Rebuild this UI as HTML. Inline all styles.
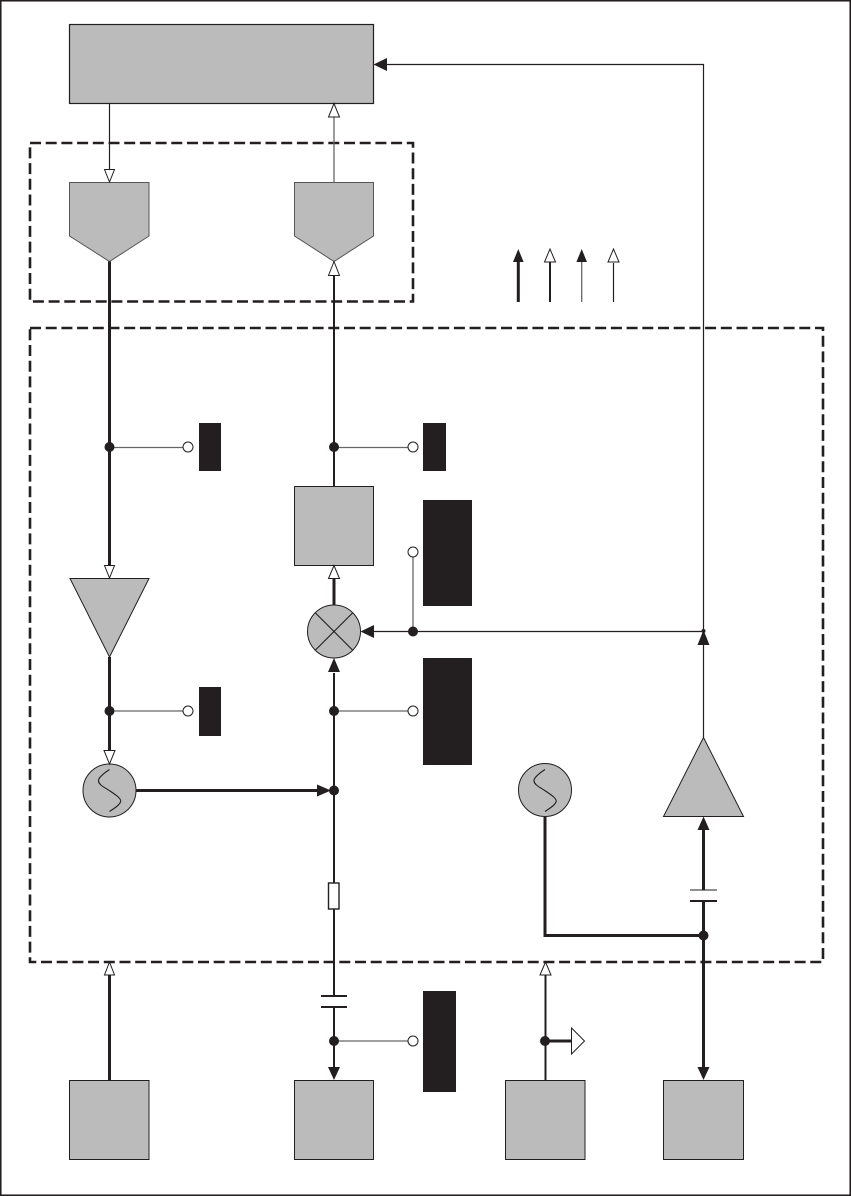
<!DOCTYPE html>
<html>
<head>
<meta charset="utf-8">
<title>Diagram</title>
<style>
html,body{margin:0;padding:0;background:#fff;width:851px;height:1196px;overflow:hidden}
svg{display:block}
</style>
</head>
<body>
<svg width="851" height="1196" viewBox="0 0 851 1196" xmlns="http://www.w3.org/2000/svg">
<rect width="851" height="1196" fill="#fff"/>
<rect x="0.75" y="0.75" width="849.5" height="1194.5" fill="none" stroke="#231f20" stroke-width="1.6"/>

<!-- dashed containers -->
<g fill="none" stroke="#231f20" stroke-width="2.6" stroke-dasharray="11 4.7">
<rect x="30" y="143" width="383" height="158.5"/>
<rect x="30" y="328" width="793" height="634"/>
</g>

<!-- grey shapes -->
<g fill="#bbbbbb" stroke="#231f20" stroke-width="1">
<rect x="69.5" y="24.5" width="304" height="79" stroke-width="1.2"/>
<polygon points="69.5,182.5 149,182.5 149,236 109.5,261.5 69.5,236" stroke="#555"/>
<polygon points="294.5,182.5 373.5,182.5 373.5,236 334,261.5 294.5,236" stroke="#555"/>
<rect x="294.5" y="486.5" width="79" height="79"/>
<polygon points="70,578.5 149,578.5 109.5,657"/>
<polygon points="663.5,816.5 743.5,816.5 703.5,737.5"/>
<rect x="69.5" y="1080.5" width="79.5" height="79"/>
<rect x="294.5" y="1080.5" width="79" height="79"/>
<rect x="505.5" y="1080.5" width="79.5" height="79"/>
<rect x="663.5" y="1080.5" width="80" height="79"/>
<circle cx="334" cy="631.5" r="26.5"/>
<circle cx="109.5" cy="790.5" r="26.5"/>
<circle cx="545" cy="790" r="26.5"/>
</g>

<!-- black blocks -->
<g fill="#231f20">
<rect x="199" y="423" width="22" height="48"/>
<rect x="423" y="423" width="23" height="48"/>
<rect x="423" y="500" width="49" height="106"/>
<rect x="423" y="658" width="49" height="107"/>
<rect x="199" y="687" width="22" height="49"/>
<rect x="423" y="991" width="33" height="101"/>
</g>

<!-- symbol details -->
<g fill="none" stroke="#231f20" stroke-width="1.1">
<line x1="315.5" y1="613" x2="352.5" y2="650"/>
<line x1="352.5" y1="613" x2="315.5" y2="650"/>
<path d="M109.5,769.5 C104,773 98,778 98.5,781 C99,785 104,787 110,791 C116,795 122,799 120.5,802 C119,806 113,809 109.5,811.5"/>
<path d="M545,769.5 C539.5,773 533.5,778 534,781 C534.5,785 539.5,787 545.5,791 C551.5,795 557.5,799 556,802 C554.5,806 548.5,809 545,811.5"/>
</g>

<!-- thin black lines -->
<g fill="none" stroke="#231f20" stroke-width="1.2">
<line x1="109.5" y1="103" x2="109.5" y2="170"/>
<polyline points="703.5,737.5 703.5,64.5 386,64.5"/>
<line x1="374" y1="631.5" x2="703.5" y2="631.5"/>
<line x1="613.5" y1="263" x2="613.5" y2="302"/>
</g>

<!-- grey lines -->
<g fill="none" stroke="#666" stroke-width="1.3">
<line x1="334" y1="182.5" x2="334" y2="116"/>
<line x1="109.5" y1="447.5" x2="183" y2="447.5"/>
<line x1="334" y1="447.5" x2="408" y2="447.5"/>
<line x1="413" y1="557" x2="413" y2="631"/>
<line x1="334" y1="711" x2="408" y2="711"/>
<line x1="109.5" y1="711" x2="183" y2="711"/>
<line x1="334" y1="1041" x2="408" y2="1041"/>
<line x1="581.7" y1="262" x2="581.7" y2="302"/>
</g>

<!-- medium / thick lines -->
<g fill="none" stroke="#231f20" stroke-width="2">
<line x1="334" y1="275" x2="334" y2="486"/>
<line x1="334" y1="673" x2="334" y2="883"/>
<line x1="334" y1="909" x2="334" y2="996"/>
<line x1="334" y1="1007" x2="334" y2="1068"/>
<line x1="545.5" y1="975" x2="545.5" y2="1080"/>
<line x1="550" y1="262" x2="550" y2="302"/>
<line x1="321" y1="996" x2="347" y2="996"/>
<line x1="321" y1="1007" x2="347" y2="1007"/>
<line x1="690" y1="901" x2="717" y2="901"/>
</g>
<line x1="690" y1="890" x2="717" y2="890" stroke="#231f20" stroke-width="1.1"/>
<g fill="none" stroke="#231f20" stroke-width="3">
<polyline points="545,817 545,935.5 703.5,935.5"/>
<line x1="109.5" y1="261.5" x2="109.5" y2="566"/>
<line x1="109.5" y1="657" x2="109.5" y2="751"/>
<line x1="334" y1="605" x2="334" y2="578"/>
<line x1="136" y1="790.5" x2="320" y2="790.5"/>
<line x1="703.5" y1="830" x2="703.5" y2="890"/>
<line x1="703.5" y1="901" x2="703.5" y2="1068"/>
<line x1="109.5" y1="975" x2="109.5" y2="1080"/>
<line x1="545" y1="1041" x2="572" y2="1041"/>
<line x1="518.3" y1="262" x2="518.3" y2="302"/>
</g>

<!-- resistor -->
<rect x="328.5" y="883" width="10.5" height="26" fill="#fff" stroke="#231f20" stroke-width="1.4"/>

<!-- filled arrowheads -->
<g fill="#231f20">
<polygon points="373.5,64.5 387,58 387,71"/>
<polygon points="360.5,631.5 374,625 374,638"/>
<polygon points="334,658 328,672 340,672"/>
<polygon points="703.5,630 697.5,645 709.5,645"/>
<polygon points="703.5,816.5 697.5,830 709.5,830"/>
<polygon points="703.5,1080 697.5,1067 709.5,1067"/>
<polygon points="334,1080 328,1067 340,1067"/>
<polygon points="331,790.5 317,784.5 317,796.5"/>
<polygon points="518.3,249 513,262 523.6,262"/>
<polygon points="581.7,249 576.4,262 587,262"/>
</g>

<!-- open arrowheads -->
<g fill="#fff" stroke="#231f20" stroke-width="1">
<polygon points="109.5,182 104.5,169.5 114.5,169.5"/>
<polygon points="334,103.5 328.5,117 339.5,117"/>
<polygon points="334,261.5 328.5,275.5 339.5,275.5"/>
<polygon points="109.5,578 104.5,565.5 114.5,565.5"/>
<polygon points="334,565.5 328.5,578.5 339.5,578.5"/>
<polygon points="109.5,764 104,750.5 115,750.5"/>
<polygon points="109.5,962 104.5,975 114.5,975"/>
<polygon points="545.5,962 540,975 551,975"/>
<polygon points="571.5,1028 584.5,1041 571.5,1054"/>
<polygon points="550,249 544.5,262 555.5,262"/>
<polygon points="613.5,249 608,262 619,262"/>
</g>

<!-- junction dots -->
<g fill="#231f20">
<circle cx="109.5" cy="447" r="5"/>
<circle cx="334" cy="447" r="5"/>
<circle cx="413" cy="631.5" r="5"/>
<circle cx="703.5" cy="631" r="2"/>
<circle cx="334" cy="711" r="5"/>
<circle cx="109.5" cy="711" r="5"/>
<circle cx="334" cy="790.5" r="5"/>
<circle cx="703.5" cy="935.5" r="5"/>
<circle cx="334" cy="1041" r="5"/>
<circle cx="545" cy="1041" r="5"/>
</g>

<!-- open terminals -->
<g fill="#fff" stroke="#231f20" stroke-width="1">
<circle cx="188" cy="447" r="5"/>
<circle cx="413" cy="447" r="5"/>
<circle cx="413" cy="552" r="5"/>
<circle cx="413" cy="711" r="5"/>
<circle cx="188" cy="711" r="5"/>
<circle cx="413" cy="1041" r="5"/>
</g>
</svg>
</body>
</html>
